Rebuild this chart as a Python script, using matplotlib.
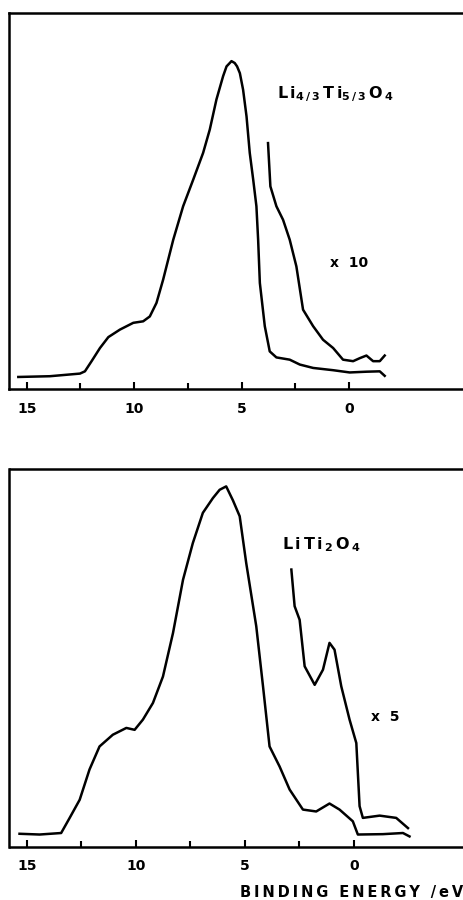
import matplotlib
matplotlib.use('Agg')
import matplotlib.pyplot as plt
from matplotlib.ticker import FixedLocator

# binding energy (eV) and intensity (% of panel height)
top_main_x = [15.39, 13.92, 12.52, 12.29, 11.98, 11.59, 11.20, 10.66, 10.04, 9.58, 9.27,
              8.96, 8.65, 8.18, 7.72, 7.25, 6.79, 6.48, 6.17, 5.86, 5.70, 5.55, 5.47,
              5.32, 5.21, 5.08, 4.93, 4.77, 4.62, 4.46, 4.31, 4.23, 4.15, 3.92, 3.69,
              3.38, 2.76, 2.29, 1.67, 0.74, -0.03, -0.81, -1.43, -1.66]
top_main_y = [3.2, 3.4, 4.1, 4.7, 7.4, 10.9, 13.8, 15.8, 17.6, 18.0, 19.3,
              22.9, 29.1, 39.7, 48.6, 55.7, 62.8, 69.0, 77.0, 83.2, 85.8, 86.7, 87.2,
              86.7, 85.8, 84.0, 79.6, 72.5, 62.8, 55.7, 48.6, 39.7, 28.2, 16.7, 10.0,
              8.4, 7.8, 6.5, 5.6, 5.0, 4.4, 4.6, 4.7, 3.5]
top_x10_x = [3.77, 3.66, 3.38, 3.07, 2.76, 2.45, 2.14, 1.67, 1.21, 0.74, 0.28, -0.19,
             -0.50, -0.81, -1.12, -1.43, -1.66]
top_x10_y = [65.4, 53.9, 48.6, 45.0, 39.7, 32.6, 21.1, 16.7, 13.1, 10.9, 7.8, 7.4,
             8.2, 8.9, 7.4, 7.4, 8.9]

bot_main_x = [15.34, 14.42, 13.43, 13.04, 12.58, 12.13, 11.67, 11.06, 10.44, 10.06, 9.68,
              9.22, 8.76, 8.30, 7.84, 7.39, 6.93, 6.47, 6.16, 5.86, 5.55, 5.24, 4.94,
              4.48, 4.17, 3.87, 3.41, 2.95, 2.34, 1.73, 1.12, 0.66, 0.05, -0.18,
              -1.33, -2.25, -2.55]
bot_main_y = [3.5, 3.3, 3.7, 7.7, 12.5, 20.5, 26.6, 29.7, 31.5, 31.0, 33.7,
              38.1, 45.1, 56.6, 70.7, 80.4, 88.4, 92.3, 94.5, 95.4, 91.7, 87.5, 75.1,
              58.4, 42.5, 26.6, 21.3, 15.2, 9.9, 9.4, 11.5, 9.9, 6.8, 3.3,
              3.4, 3.7, 2.8]
bot_x5_x = [2.87, 2.72, 2.49, 2.26, 1.80, 1.42, 1.12, 0.89, 0.58, 0.20, -0.11, -0.26,
            -0.41, -1.18, -1.94, -2.48]
bot_x5_y = [73.4, 63.7, 60.1, 47.8, 42.9, 46.9, 54.0, 52.2, 42.5, 33.7, 27.5, 10.8,
            7.7, 8.3, 7.7, 5.0]

major_ticks = [15, 10, 5, 0]
minor_ticks = [12.5, 7.5, 2.5]

plt.rcParams['font.family'] = ['DejaVu Sans']
plt.rcParams['font.weight'] = 'bold'
plt.rcParams['mathtext.default'] = 'bf'

W, H = 464, 900
fig = plt.figure(figsize=(W / 100, H / 100), dpi=100)


def panel(top_px, bot_px, xlim):
    ax = fig.add_axes([9.5 / W, 1 - bot_px / H, 1 - 9.5 / W, (bot_px - top_px) / H])
    ax.set_xlim(*xlim)
    ax.set_ylim(0, 100)
    ax.spines['right'].set_visible(False)
    for s in ('left', 'top', 'bottom'):
        ax.spines[s].set_linewidth(1.8)
    ax.set_yticks([])
    ax.xaxis.set_major_locator(FixedLocator(major_ticks))
    ax.xaxis.set_minor_locator(FixedLocator(minor_ticks))
    ax.set_xticklabels([str(t) for t in major_ticks])
    ax.tick_params(axis='x', which='major', direction='in', length=5, width=1.5,
                   pad=9, labelsize=10)
    ax.tick_params(axis='x', which='minor', direction='in', length=4, width=1.5)
    return ax


ax1 = panel(13, 389, (15.8, -5.35))
ax1.plot(top_main_x, top_main_y, color='black', lw=1.8)
ax1.plot(top_x10_x, top_x10_y, color='black', lw=1.8)
ax1.text(0.589, 0.785, r'$L\,i_{4\,/\,3}\,T\,i_{5\,/\,3}\,O_{\,4}$', transform=ax1.transAxes,
         fontsize=11.5, va='center', ha='left')
ax1.text(0.705, 0.335, 'x  10', transform=ax1.transAxes, fontsize=10,
         va='center', ha='left')

ax2 = panel(469, 847, (15.8, -5.05))
ax2.plot(bot_main_x, bot_main_y, color='black', lw=1.8)
ax2.plot(bot_x5_x, bot_x5_y, color='black', lw=1.8)
ax2.text(0.6, 0.80, r'$L\,i\,T\,i_{\,2}\,O_{\,4}$', transform=ax2.transAxes,
         fontsize=11.5, va='center', ha='left')
ax2.text(0.795, 0.345, 'x  5', transform=ax2.transAxes, fontsize=10,
         va='center', ha='left')

fig.text(1 - 1 / W, 1 - 893 / H, '\u2009'.join('BINDING ENERGY /eV'),
         fontsize=10.5, ha='right', va='center')

fig.savefig('out.png', dpi=100)
